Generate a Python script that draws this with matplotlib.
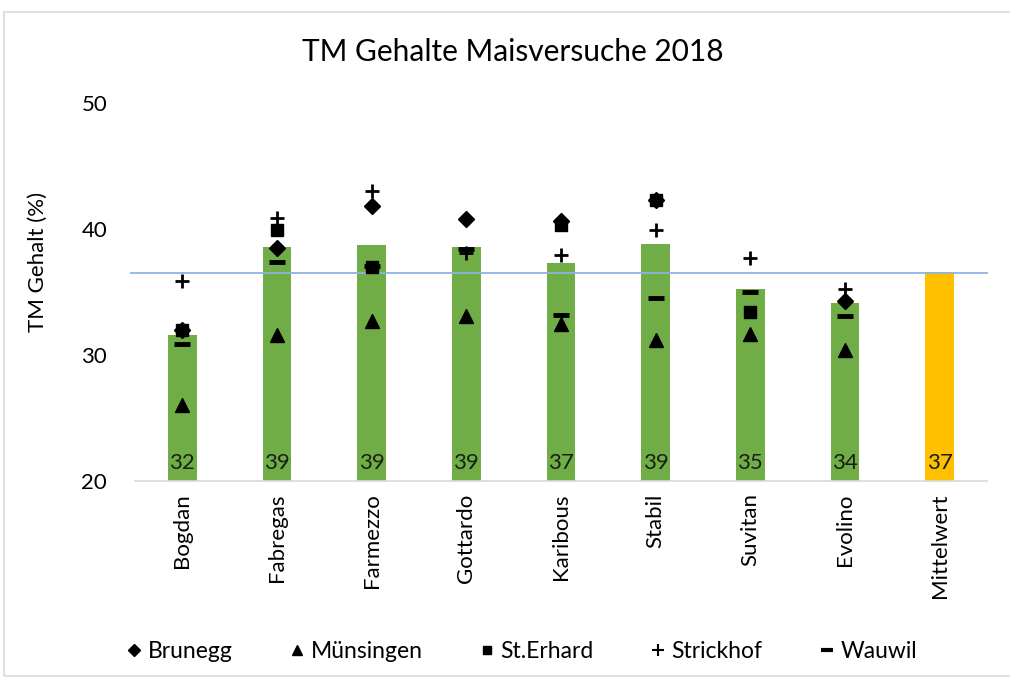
import numpy as np
import matplotlib.pyplot as plt
from matplotlib.patches import Rectangle
from matplotlib.lines import Line2D

plt.rcParams["font.family"] = ["Lato", "DejaVu Sans"]

# data
sorten = ["Bogdan", "Fabregas", "Farmezzo", "Gottardo", "Karibous", "Stabil", "Suvitan", "Evolino", "Mittelwert"]
mittel = [31.6, 38.6, 38.7, 38.6, 37.3, 38.8, 35.2, 34.1, 36.6]
mittel_lbl = [32, 39, 39, 39, 37, 39, 35, 34, 37]
gesamt_mittel = 36.5

brunegg   = [32.0, 38.5, 41.8, 40.8, 40.6, 42.3, np.nan, 34.3]
muensingen = [26.0, 31.6, 32.7, 33.1, 32.5, 31.2, 31.7, 30.4]
st_erhard = [32.0, 39.9, 37.0, np.nan, 40.3, 42.3, 33.4, np.nan]
strickhof = [35.9, 40.9, 43.0, 38.1, 37.9, 39.9, 37.7, 35.2]
wauwil    = [30.9, 37.4, 37.1, 38.4, 33.2, 34.5, 35.0, 33.1]

standorte = ["Brunegg", "Münsingen", "St.Erhard", "Strickhof", "Wauwil"]

fig = plt.figure(figsize=(10.1, 6.83), dpi=100)
ax = fig.add_axes([135 / 1010, 1 - 481 / 683, 852 / 1010, 378 / 683])

x = np.arange(len(sorten))
farben = ["#70AD47"] * 8 + ["#FFC000"]
ax.bar(x, [m - 20 for m in mittel], bottom=20, width=0.3, color=farben, zorder=2)
for xi, lbl in zip(x, mittel_lbl):
    ax.annotate(str(lbl), (xi, 20), xytext=(0, 6), textcoords="offset points",
                ha="center", va="bottom", fontsize=16, color="#172017", zorder=4)

ax.axhline(gesamt_mittel, xmin=-0.005, xmax=1.0, color="#8DB4E2", lw=1.3, zorder=3, clip_on=False)

xs = x[:8]
ax.plot(xs, brunegg, "D", color="black", ms=8, ls="none", zorder=5)
ax.plot(xs, muensingen, "^", color="black", ms=10, ls="none", zorder=5)
ax.plot(xs, st_erhard, "s", color="black", ms=8, ls="none", zorder=5)
ax.plot(xs, strickhof, "+", color="black", ms=10, mew=2, ls="none", zorder=5)
ax.plot(xs, wauwil, "_", color="black", ms=11, mew=3.5, ls="none", zorder=5)

ax.set_xlim(-0.5, 8.5)
ax.set_ylim(20, 50)
ax.set_yticks([20, 30, 40, 50])
ax.set_xticks(x)
ax.set_xticklabels(sorten, rotation=90, fontsize=16)
ax.tick_params(axis="y", labelsize=16, length=0, pad=20)
ax.tick_params(axis="x", length=0, pad=9)
for s in ["top", "right", "left"]:
    ax.spines[s].set_visible(False)
ax.spines["bottom"].set_color("#D9D9D9")
ax.spines["bottom"].set_linewidth(1.2)

fig.text(38 / 1010, 1 - 262 / 683, "TM Gehalt (%)", rotation=90, ha="center", va="center", fontsize=16)
fig.text(513 / 1010, 1 - 52 / 683, "TM Gehalte Maisversuche 2018", ha="center", va="center", fontsize=21.5)

handles = [
    Line2D([], [], marker="D", color="black", ms=6, ls="none"),
    Line2D([], [], marker="^", color="black", ms=7, ls="none"),
    Line2D([], [], marker="s", color="black", ms=6, ls="none"),
    Line2D([], [], marker="+", color="black", ms=8, mew=1.5, ls="none"),
    Line2D([], [], marker="_", color="black", ms=9, mew=3, ls="none"),
]
fig.legend(handles, standorte, loc="center", bbox_to_anchor=(522 / 1010, 1 - 652 / 683), ncol=5,
           frameon=False, fontsize=16.5, handlelength=0.6, handletextpad=0.3, columnspacing=2.5)

fig.patches.append(Rectangle((4 / 1010, 1 - 676 / 683), 1.0, 664 / 683, transform=fig.transFigure,
                             fill=False, edgecolor="#D9D9D9", lw=1.2))

fig.savefig("out.png", dpi=100)
